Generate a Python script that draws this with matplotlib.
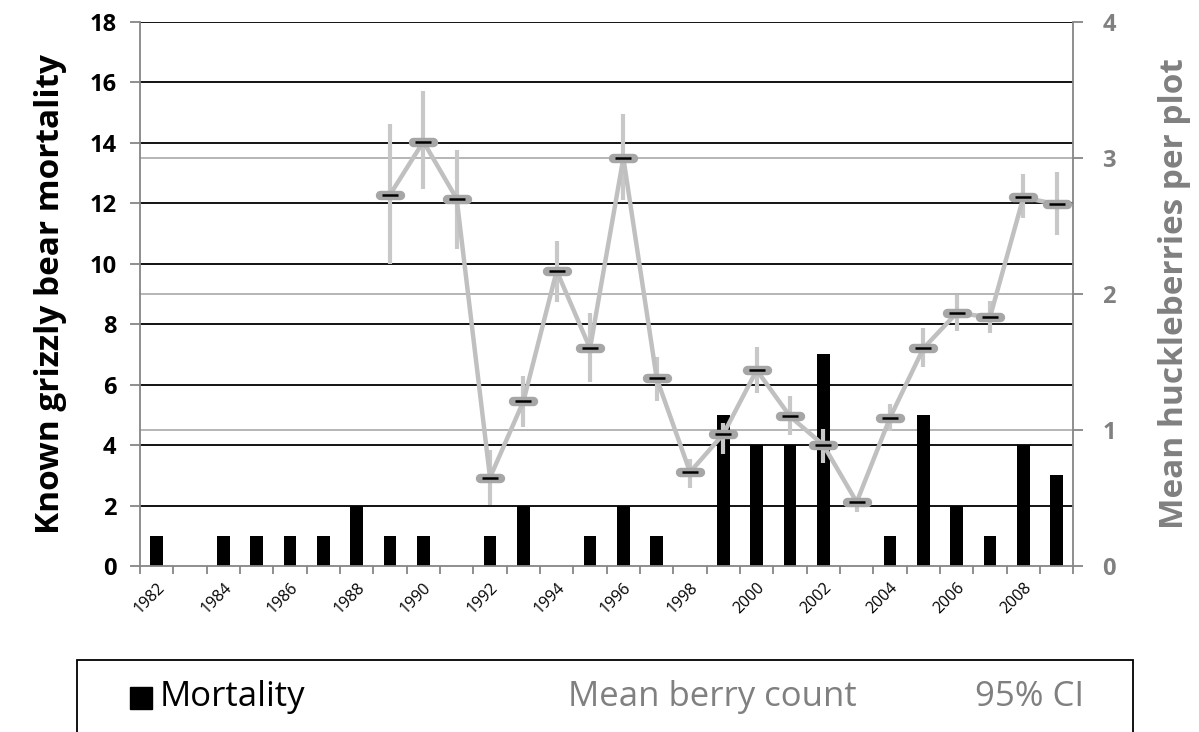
import numpy as np
import matplotlib

matplotlib.use("Agg")
import matplotlib.pyplot as plt
from matplotlib.markers import MarkerStyle
from matplotlib.patches import Rectangle
from matplotlib.transforms import blended_transform_factory

plt.rcParams["font.family"] = ["Open Sans", "DejaVu Sans"]

# --- data ---
years = list(range(1982, 2010))
mortality = [1, 0, 1, 1, 1, 1, 2, 1, 1, 0, 1, 2, 0, 1, 2, 1, 0, 5, 4, 4, 7, 0, 1, 5, 2, 1, 4, 3]

berry_years = list(range(1989, 2010))
berry_mean = [2.73, 3.12, 2.70, 0.65, 1.21, 2.17, 1.60, 3.00, 1.38, 0.69, 0.97,
              1.44, 1.10, 0.89, 0.47, 1.09, 1.60, 1.86, 1.83, 2.71, 2.66]
ci_low = [2.22, 2.77, 2.33, 0.45, 1.02, 1.94, 1.35, 2.69, 1.21, 0.57, 0.82,
          1.27, 0.96, 0.76, 0.40, 0.99, 1.46, 1.73, 1.71, 2.56, 2.43]
ci_high = [3.25, 3.49, 3.06, 0.85, 1.40, 2.39, 1.86, 3.32, 1.54, 0.79, 1.05,
           1.61, 1.25, 1.01, 0.51, 1.19, 1.75, 1.99, 1.95, 2.88, 2.90]

left_ticks = list(range(0, 19, 2))
right_ticks = [0, 1, 2, 3, 4]
year_labels = [str(y) for y in years if y % 2 == 0]

GRAY_AX = "#868686"
LINE_GRAY = "#c0c0c0"
MARK_GRAY = "#a6a6a6"
TEXT_GRAY = "#808080"

fig = plt.figure(figsize=(11.99, 7.32), dpi=100)
ax = fig.add_axes([0.1168, 0.2268, 0.7784, 0.7432])
ax2 = ax.twinx()

pos = np.arange(len(years))
bpos = np.array([years.index(y) for y in berry_years])
mean = np.array(berry_mean)
lo = mean - np.array(ci_low)
hi = np.array(ci_high) - mean

# gridlines (behind everything)
for v in left_ticks[1:]:
    ax.axhline(v, color="black", lw=1.3, zorder=0)
gtrans = blended_transform_factory(ax.transAxes, ax2.transData)
for v in right_ticks[1:-1]:
    ax.plot([0, 1], [v, v], color="#b0b0b0", lw=1.3, transform=gtrans, zorder=0)

ax.bar(pos, mortality, width=0.38, color="black", zorder=2)

ax.set_xlim(-0.5, len(years) - 0.5)
ax.set_ylim(0, 18)
ax2.set_ylim(0, 4)

# berry series on the right axis
ax2.errorbar(bpos, mean, yerr=[lo, hi], fmt="none", ecolor="#c8c8c8",
             elinewidth=3, capsize=0, zorder=3)
ax2.plot(bpos, mean, color=LINE_GRAY, lw=3.2, zorder=4)
ax2.plot(bpos, mean, ls="none", marker=MarkerStyle("_", capstyle="round"),
         ms=14, mew=6.8, mec=MARK_GRAY, zorder=5)
ax2.plot(bpos, mean, ls="none", marker="_", ms=11, mew=1.8, mec="black", zorder=6)

# axes styling
for a in (ax, ax2):
    for s in a.spines.values():
        s.set_visible(False)
ax.spines["left"].set_visible(True)
ax.spines["bottom"].set_visible(True)
ax2.spines["right"].set_visible(True)
for s in (ax.spines["left"], ax.spines["bottom"], ax2.spines["right"]):
    s.set_color(GRAY_AX)
    s.set_linewidth(1.3)

ax.set_yticks(left_ticks)
ax.tick_params(axis="y", direction="out", length=7, width=1.3, color=GRAY_AX,
               labelsize=17, pad=10)
for t in ax.get_yticklabels():
    t.set_fontweight("bold")

ax2.set_yticks(right_ticks)
ax2.tick_params(axis="y", direction="out", length=7, width=1.3, color=GRAY_AX,
                labelsize=17, labelcolor=TEXT_GRAY, pad=14)
for t in ax2.get_yticklabels():
    t.set_fontweight("bold")

# category boundaries as major ticks, labels at centres of even years
ax.set_xticks(np.arange(len(years) + 1) - 0.5)
ax.set_xticklabels([])
ax.tick_params(axis="x", which="major", direction="out", length=6, width=1.3, color=GRAY_AX)
label_pos = [years.index(int(l)) for l in year_labels]
ax.set_xticks(label_pos, minor=True)
ax.set_xticklabels(year_labels, minor=True, rotation=45, ha="right",
                   rotation_mode="anchor", fontsize=11.5)
ax.tick_params(axis="x", which="minor", length=0, pad=10)

ax.set_ylabel("Known grizzly bear mortality", fontsize=24, fontweight="bold", labelpad=16)
ax2.set_ylabel("Mean huckleberries per plot", fontsize=24, fontweight="bold",
               color=TEXT_GRAY, labelpad=30)

# legend box at the bottom (cut by the figure edge, as in the reference)
fig.add_artist(Rectangle((77 / 1199, -0.05), (1133 - 77) / 1199, 0.05 + (732 - 660) / 732,
                         transform=fig.transFigure, fill=False, ec="black", lw=1.3,
                         clip_on=False))
ty = 1 - 697 / 732
fig.add_artist(Rectangle((130 / 1199, 1 - 709 / 732), 22 / 1199, 22 / 732,
                         transform=fig.transFigure, color="black"))
fig.text(160 / 1199, ty, "Mortality", fontsize=25, va="center", ha="left", color="black")
fig.text(568 / 1199, ty, "Mean berry count", fontsize=25, va="center", ha="left", color=TEXT_GRAY)
fig.text(975 / 1199, ty, "95% CI", fontsize=25, va="center", ha="left", color=TEXT_GRAY)

fig.savefig("out.png", dpi=100)
